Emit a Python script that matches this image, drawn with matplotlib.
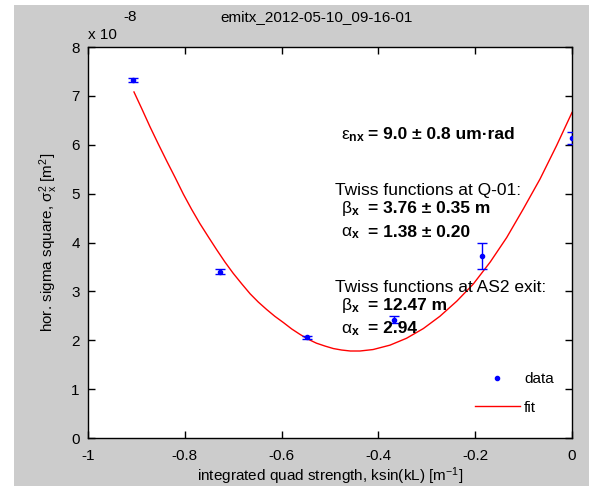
import matplotlib
matplotlib.use('Agg')
import matplotlib.pyplot as plt
from matplotlib.patches import Rectangle
from matplotlib.lines import Line2D

plt.rcParams['font.family'] = ['Liberation Sans', 'DejaVu Sans']
plt.rcParams['mathtext.fontset'] = 'custom'
plt.rcParams['mathtext.rm'] = 'Liberation Sans'
plt.rcParams['mathtext.bf'] = 'Liberation Sans:bold'
plt.rcParams['mathtext.it'] = 'Liberation Sans:italic'

# measured beam size squared (units of 1e-8 m^2) vs quad strength
k_meas = [-0.907, -0.728, -0.548, -0.367, -0.186, 0.0]
sig2_meas = [7.33, 3.40, 2.06, 2.42, 3.72, 6.14]
sig2_err = [0.04, 0.05, 0.03, 0.07, 0.27, 0.125]

# fit curve
k_fit = [-0.905, -0.889, -0.872, -0.855, -0.837, -0.820, -0.803, -0.786,
         -0.769, -0.751, -0.734, -0.717, -0.700, -0.682, -0.665, -0.648,
         -0.631, -0.614, -0.596, -0.579, -0.562, -0.545, -0.528, -0.510,
         -0.493, -0.476, -0.458, -0.438, -0.411, -0.376, -0.342, -0.307,
         -0.273, -0.238, -0.204, -0.169, -0.135, -0.101, -0.066, -0.032, 0.0]
sig2_fit = [7.08, 6.74, 6.37, 6.02, 5.66, 5.33, 4.99, 4.68,
            4.39, 4.11, 3.85, 3.60, 3.37, 3.15, 2.95, 2.78,
            2.63, 2.49, 2.36, 2.23, 2.12, 2.02, 1.94, 1.88,
            1.83, 1.80, 1.78, 1.78, 1.81, 1.90, 2.04, 2.24,
            2.49, 2.80, 3.15, 3.60, 4.10, 4.68, 5.30, 5.98, 6.66]

xticks = [-1, -0.8, -0.6, -0.4, -0.2, 0]
xtick_labels = ['-1', '-0.8', '-0.6', '-0.4', '-0.2', '0']
yticks = [0, 1, 2, 3, 4, 5, 6, 7, 8]

fig = plt.figure(figsize=(5.89, 4.86), dpi=100, facecolor='white')
fig.patches.append(Rectangle((14 / 589, 0), 1, 481 / 486, transform=fig.transFigure,
                             facecolor='#cccccc', edgecolor='none', zorder=-10))
ax = fig.add_axes([88 / 589, 1 - 438 / 486, 484 / 589, 391 / 486])
ax.set_facecolor('white')

ax.errorbar(k_meas, sig2_meas, yerr=sig2_err, fmt='.', color='blue', ecolor='blue',
            markersize=6, capsize=3.5, elinewidth=1, capthick=1, zorder=3)
ax.plot(k_fit, sig2_fit, color='red', lw=1, zorder=2)

ax.set_xlim(-1, 0)
ax.set_ylim(0, 8)
ax.set_xticks(xticks)
ax.set_xticklabels(xtick_labels)
ax.set_yticks(yticks)
ax.tick_params(direction='in', top=True, right=True, length=5, labelsize=11, width=1)
ax.tick_params(axis='x', pad=8)
ax.tick_params(axis='y', pad=6)
for s in ax.spines.values():
    s.set_linewidth(1)

ax.set_xlabel('integrated quad strength, ksin(kL) [m$^{-1}$]', fontsize=11, labelpad=2)
ax.set_ylabel(r'hor. sigma square, $\mathrm{\sigma}_\mathrm{x}^2$ [m$^2$]', fontsize=11, labelpad=8)

ax.text(0.472, 1.077, 'emitx_2012-05-10_09-16-01', transform=ax.transAxes,
        ha='center', va='center', fontsize=11)
ax.text(0.0, 1.012, 'x 10', transform=ax.transAxes, ha='left', va='bottom', fontsize=11)
ax.text(0.074, 1.077, '-8', transform=ax.transAxes, ha='left', va='center', fontsize=11)

# annotation block
sym_x = -0.477
val_x = -0.4215
fs = 12.5
lines = [
    (6.11, r'$\mathrm{\varepsilon}_{\mathbf{nx}}$', '= 9.0 \u00b1 0.8 um\u00b7rad'),
    (4.61, r'$\mathrm{\beta}_{\mathbf{x}}$', '= 3.76 \u00b1 0.35 m'),
    (4.12, r'$\mathrm{\alpha}_{\mathbf{x}}$', '= 1.38 \u00b1 0.20'),
    (2.62, r'$\mathrm{\beta}_{\mathbf{x}}$', '= 12.47 m'),
    (2.14, r'$\mathrm{\alpha}_{\mathbf{x}}$', '= 2.94'),
]
for y, sym, val in lines:
    ax.text(sym_x, y, sym, fontsize=fs, va='baseline', ha='left')
    ax.text(val_x, y, val, fontsize=fs, fontweight='bold', va='baseline', ha='left')
ax.text(-0.490, 4.98, 'Twiss functions at Q-01:', fontsize=fs, va='baseline', ha='left')
ax.text(-0.490, 2.98, 'Twiss functions at AS2 exit:', fontsize=fs, va='baseline', ha='left')

handles = [Line2D([], [], color='blue', marker='.', linestyle='none', markersize=6),
           Line2D([], [], color='red', lw=1)]
ax.legend(handles, ['data', 'fit'], loc='center left', bbox_to_anchor=(0.80, 0.114),
          frameon=False, fontsize=11, handlelength=2.9, handletextpad=0.3,
          labelspacing=0.95, borderpad=0, borderaxespad=0)

fig.savefig('out.png', dpi=100, facecolor=fig.get_facecolor())
